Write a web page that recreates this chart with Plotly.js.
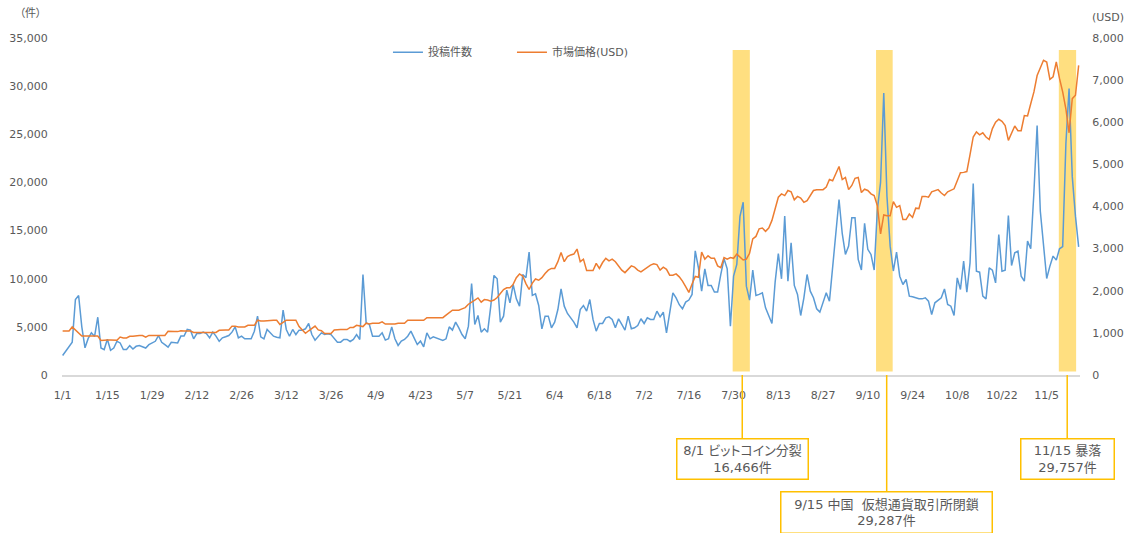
<!DOCTYPE html>
<html>
<head>
<meta charset="utf-8">
<script src="https://cdn.plot.ly/plotly-3.0.1.min.js"></script>
<style>
  html, body { margin: 0; padding: 0; background: #ffffff; }
  #chart { width: 1129px; height: 533px; }
  /* proportional kana spacing in the callout boxes */
  #chart .annotation-text { font-feature-settings: "palt"; }
</style>
</head>
<body>
<div id="chart"></div>
<script>
// Daily post counts (件), 2017-01-01 .. 2017-11-15, one array per month
const postsJan = [2025,2500,3000,3410,7840,8260,5000,2820,3800,4380,4000,6000,2800,2640,3720,2570,2800,3500,3330,2640,2640,3050,2700,2980,3050,2910,2800,3150,3330,3500,4100];
const postsFeb = [3400,3150,2900,3400,3400,3330,4040,4040,4730,4660,3760,4310,4310,4450,4310,3860,4450,4040,3500,3860,3970,4100,4450,5000,3860,4040,3760,3760];
const postsMar = [3760,4550,6110,3970,3760,4730,4380,4030,3930,3860,6730,4730,4030,4730,4200,4660,4660,4800,5350,4200,3620,4030,4380,4200,4270,4200,3760,3410,3410,3690,3690];
const postsApr = [3480,3690,4200,3690,10440,5420,5250,4030,4030,4030,4380,3620,3760,5000,3760,3070,3520,3690,4030,4550,3860,3170,3520,2930,4380,3760,3970,3860,3760,3590];
const postsMay = [3760,5000,4660,5490,4900,4200,3760,5070,9500,5250,6180,4450,4800,4450,7150,10340,10000,5490,6110,8810,7490,9400,7910,7150,10440,10100,12760,8260,8420,7220,4800];
const postsJun = [6110,6110,4900,5490,6800,8950,7150,6390,5940,5490,4900,6800,7220,6630,7840,5770,4560,5350,5350,5940,6040,5770,4900,5840,5250,4660,6110,4800,4900,5140];
const postsJul = [5840,5350,5940,5770,5770,6630,6040,6520,4380,6730,8540,8000,7300,6880,7570,7780,8370,12890,11130,8710,11030,9300,9300,8610,8610,10440,12070,11030,5070,10270,11480];
const postsAug = [16466,17950,9230,7780,10900,8260,8370,8540,6980,6110,5350,9650,12620,9990,16500,9750,13740,9300,8370,6180,8020,10440,8710,8020,6880,6530,7570,8540,7670,10960,14770];
const postsSep = [18230,14700,12520,13390,16330,16330,12000,10900,15750,13050,12520,10900,17200,20000,29287,18570,13380,10800,12760,10260,9400,9920,8190,8120,8020,7910,7910,8020,7670,6280];
const postsOct = [7500,7780,8020,8930,7320,7150,6180,10090,8880,11820,8610,11650,19890,10780,10680,8190,7910,11130,10890,9570,14590,10780,10890,16570,11370,12690,12860,10260,9740,13900,13110];
const postsNov = [19000,25900,17000,13730,10020,11310,12350,11930,13110,13330,24000,29757,20600,16500,13300];

// Daily market price (USD)
const priceJan = [1043,1043,1043,1140,1060,990,925,925,925,925,925,925,820,830,830,830,830,825,900,880,880,920,920,935,935,935,900,940,940,940,940];
const priceFeb = [940,940,1040,1030,1030,1030,1050,1045,1045,1045,1010,1010,1010,1010,1010,1010,1010,1010,1060,1070,1070,1070,1160,1160,1140,1140,1140,1180];
const priceMar = [1180,1180,1300,1280,1280,1290,1300,1300,1300,1200,1250,1300,1300,1300,1300,1150,1080,990,1050,1110,1160,1070,1050,985,985,985,1070,1080,1080,1080,1080];
const priceApr = [1130,1130,1180,1170,1150,1230,1210,1230,1230,1230,1260,1210,1210,1210,1210,1230,1230,1230,1300,1300,1300,1300,1300,1300,1360,1360,1360,1350,1350,1360];
const priceMay = [1420,1480,1540,1540,1540,1570,1600,1680,1740,1780,1830,1730,1790,1780,1750,1780,1840,1930,2030,2070,2070,2150,2310,2400,2350,2170,2030,2180,2280,2250,2310];
const priceJun = [2410,2490,2530,2530,2690,2910,2690,2810,2850,2870,2990,2690,2750,2480,2480,2480,2650,2530,2670,2770,2710,2750,2690,2590,2490,2430,2510,2590,2560,2490];
const priceJul = [2450,2510,2560,2610,2640,2620,2490,2560,2510,2370,2370,2400,2330,2230,2100,1960,2160,2340,2320,2920,2750,2830,2770,2770,2590,2550,2790,2750,2790,2770,2870];
const priceAug = [2790,2730,2750,2890,3230,3290,3470,3490,3410,3490,3670,3930,4220,4300,4260,4380,4350,4160,4240,4200,4100,4140,4260,4380,4400,4400,4400,4460,4640,4610,4770];
const priceSep = [4950,4640,4690,4400,4500,4670,4690,4330,4410,4380,4300,4260,4020,3350,3800,3780,3780,4115,3980,4020,3690,3690,3820,3740,3960,3950,4240,4240,4220,4350];
const priceOct = [4380,4400,4320,4260,4350,4380,4420,4610,4800,4810,4830,5230,5650,5770,5700,5750,5650,5590,5850,6000,6070,6020,5920,5570,5730,5910,5800,5800,6160,6150,6440];
const priceNov = [6720,7110,7270,7470,7430,7020,7080,7430,7040,6720,6320,5750,6560,6640,7350];

// X axis tick positions and labels
const tickDates = ['2017-01-01','2017-01-15','2017-01-29','2017-02-12','2017-02-26','2017-03-12','2017-03-26',
  '2017-04-09','2017-04-23','2017-05-07','2017-05-21','2017-06-04','2017-06-18','2017-07-02','2017-07-16',
  '2017-07-30','2017-08-13','2017-08-27','2017-09-10','2017-09-24','2017-10-08','2017-10-22','2017-11-05'];
const tickLabels = ['1/1','1/15','1/29','2/12','2/26','3/12','3/26','4/9','4/23','5/7','5/21','6/4','6/18',
  '7/2','7/16','7/30','8/13','8/27','9/10','9/24','10/8','10/22','11/5'];

// Series names
const seriesNames = ['投稿件数', '市場価格(USD)'];

// Highlighted events: date of the marked post count and callout heading
const eventDates = ['2017-08-01', '2017-09-15', '2017-11-12'];
const eventTitles = ['8/1 ビットコイン分裂', '9/15 中国  仮想通貨取引所閉鎖', '11/15 暴落'];

const posts = [].concat(postsJan, postsFeb, postsMar, postsApr, postsMay, postsJun,
                        postsJul, postsAug, postsSep, postsOct, postsNov);
const price = [].concat(priceJan, priceFeb, priceMar, priceApr, priceMay, priceJun,
                        priceJul, priceAug, priceSep, priceOct, priceNov);

// One calendar date per value, starting 2017-01-01
const dates = posts.map((_, i) => {
  const d = new Date(Date.UTC(2017, 0, 1 + i));
  return d.toISOString().slice(0, 10);
});

const FONT = 'DejaVu Sans, "Noto Sans CJK JP", sans-serif';
const GRAY = '#595959';
const GOLD = '#FFC000';
const BAND = '#FFDF80';

// Shaded spans around each event and the callout geometry
const bandSpans = [
  ['2017-07-29 17:00', '2017-08-04 02:00'],
  ['2017-09-12 14:00', '2017-09-17 19:00'],
  ['2017-11-08 19:00', '2017-11-14 05:00']
];
const leaderX = ['2017-08-01 17:00', '2017-09-15 22:00', '2017-11-11 10:00'];
const calloutDrop = [83.5, 137.5, 83.5];
const calloutW = [128, 208, 90];
const calloutH = [37, 38, 37];

const fmt = v => v.toLocaleString('en-US');

const traces = [
  {
    x: dates, y: posts, name: seriesNames[0], type: 'scatter', mode: 'lines',
    line: { color: '#5B9BD5', width: 1.5 }, yaxis: 'y'
  },
  {
    x: dates, y: price, name: seriesNames[1], type: 'scatter', mode: 'lines',
    line: { color: '#ED7D31', width: 1.5 }, yaxis: 'y2'
  }
];

const shapes = bandSpans.map(s => ({
  type: 'rect', xref: 'x', yref: 'paper',
  x0: s[0], x1: s[1], y0: 0.0104, y1: 0.9644,
  fillcolor: BAND, line: { width: 0 }, layer: 'below'
}));

const annotations = eventDates.map((d, i) => ({
  xref: 'x', yref: 'paper', x: leaderX[i], y: 0,
  text: eventTitles[i] + '<br>' + fmt(posts[dates.indexOf(d)]) + '件',
  showarrow: true, arrowhead: 0, arrowwidth: 1.5, arrowcolor: GOLD,
  ax: 0, ay: calloutDrop[i], standoff: 0,
  bordercolor: GOLD, borderwidth: 1.5, borderpad: 1, bgcolor: '#ffffff',
  width: calloutW[i], height: calloutH[i], align: 'center', valign: 'middle',
  font: { family: FONT, size: 13, color: GRAY }
}));

annotations.push(
  { xref: 'paper', yref: 'paper', x: -0.0305, y: 1.074, xanchor: 'center', yanchor: 'middle',
    text: '（件）', showarrow: false, font: { family: FONT, size: 11, color: GRAY } },
  { xref: 'paper', yref: 'paper', x: 1.0095, y: 1.062, xanchor: 'left', yanchor: 'middle',
    text: '(USD)', showarrow: false, font: { family: FONT, size: 11, color: GRAY } }
);

const tickFont = { family: FONT, size: 11, color: GRAY };

const layout = {
  width: 1129, height: 533,
  margin: { l: 62, r: 49, t: 38, b: 157.5 },
  paper_bgcolor: '#ffffff', plot_bgcolor: '#ffffff',
  font: { family: FONT, color: GRAY },
  showlegend: true,
  legend: {
    orientation: 'h', x: 0.3202, xanchor: 'left', y: 0.958, yanchor: 'middle',
    entrywidth: 79, font: { family: FONT, size: 11, color: GRAY },
    bgcolor: 'rgba(0,0,0,0)'
  },
  xaxis: {
    type: 'date', range: ['2016-12-31 19:12', '2017-11-15 10:05'],
    tickvals: tickDates, ticktext: tickLabels,
    showgrid: false, zeroline: false,
    showline: true, linecolor: '#D9D9D9', linewidth: 2,
    ticks: 'outside', ticklen: 9, tickcolor: 'rgba(0,0,0,0)',
    tickfont: tickFont, fixedrange: true
  },
  yaxis: {
    range: [0, 35000], tickvals: [0,5000,10000,15000,20000,25000,30000,35000],
    tickformat: ',', showgrid: false, zeroline: false, showline: false,
    ticks: 'outside', ticklen: 11, tickcolor: 'rgba(0,0,0,0)',
    tickfont: tickFont, fixedrange: true
  },
  yaxis2: {
    overlaying: 'y', side: 'right', range: [0, 8000],
    tickvals: [0,1000,2000,3000,4000,5000,6000,7000,8000],
    tickformat: ',', showgrid: false, zeroline: false, showline: false,
    ticks: 'outside', ticklen: 9, tickcolor: 'rgba(0,0,0,0)',
    tickfont: tickFont, fixedrange: true
  },
  shapes: shapes,
  annotations: annotations
};

Plotly.newPlot('chart', traces, layout, { displayModeBar: false, staticPlot: true });
</script>
</body>
</html>
